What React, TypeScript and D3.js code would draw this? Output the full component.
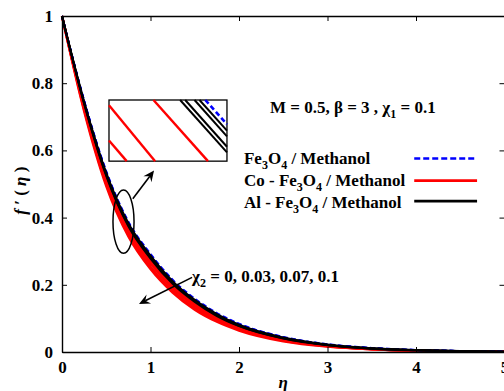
import React, { useRef, useEffect } from 'react';
import * as d3 from 'd3';

// similarity variable eta (x axis)
const eta = [0, 0.25, 0.5, 0.75, 1, 1.25, 1.5, 1.75, 2, 2.5, 3, 3.5, 4, 4.5, 5];

// f'(eta), one row per chi2 = 0, 0.03, 0.07, 0.1
const feMethanol = [
    [1, 0.748, 0.538, 0.388, 0.292, 0.215, 0.159, 0.116, 0.084, 0.045, 0.023, 0.012, 0.006, 0.003, 0.001],
    [1, 0.747, 0.536, 0.386, 0.290, 0.213, 0.157, 0.114, 0.083, 0.044, 0.023, 0.012, 0.006, 0.003, 0.001],
    [1, 0.746, 0.534, 0.384, 0.288, 0.211, 0.155, 0.113, 0.082, 0.043, 0.022, 0.011, 0.006, 0.003, 0.001],
    [1, 0.745, 0.532, 0.382, 0.286, 0.209, 0.154, 0.112, 0.081, 0.042, 0.022, 0.011, 0.005, 0.003, 0.001],
];
const alFeMethanol = [
    [1, 0.745, 0.533, 0.383, 0.287, 0.211, 0.155, 0.113, 0.081, 0.043, 0.022, 0.011, 0.006, 0.003, 0.001],
    [1, 0.743, 0.530, 0.380, 0.284, 0.208, 0.153, 0.111, 0.080, 0.042, 0.021, 0.011, 0.005, 0.003, 0.001],
    [1, 0.741, 0.527, 0.377, 0.281, 0.206, 0.151, 0.109, 0.078, 0.041, 0.021, 0.010, 0.005, 0.002, 0.001],
    [1, 0.739, 0.524, 0.374, 0.278, 0.203, 0.149, 0.107, 0.077, 0.040, 0.020, 0.010, 0.005, 0.002, 0.001],
];
const coFeMethanol = [
    [1, 0.733, 0.517, 0.367, 0.271, 0.197, 0.143, 0.103, 0.074, 0.038, 0.019, 0.009, 0.004, 0.002, 0.001],
    [1, 0.727, 0.509, 0.359, 0.263, 0.190, 0.137, 0.098, 0.070, 0.036, 0.018, 0.009, 0.004, 0.002, 0.001],
    [1, 0.722, 0.500, 0.350, 0.254, 0.183, 0.131, 0.094, 0.067, 0.034, 0.017, 0.008, 0.004, 0.002, 0.001],
    [1, 0.717, 0.494, 0.344, 0.247, 0.177, 0.126, 0.090, 0.064, 0.032, 0.016, 0.008, 0.004, 0.002, 0.001],
];

const xTicks = [0, 1, 2, 3, 4, 5];
const yTicks = [0, 0.2, 0.4, 0.6, 0.8, 1];
const yTickLabels = ['0', '0.2', '0.4', '0.6', '0.8', '1'];
const chi2Label = '= 0, 0.03, 0.07, 0.1';

// zoomed inset: segments in inset-local units [u0, v0, u1, v1]
const insetRed = [[0, 0.339, 0.15, 0], [0, 0.913, 0.391, 0], [0.377, 1, 0.839, 0]];
const insetBlack = [[0.603, 1, 1, 0.143], [0.646, 1, 1, 0.236], [0.725, 1, 1, 0.405], [0.767, 1, 1, 0.498]];
const insetBlue = [[0.816, 1, 1, 0.602]];

const FONT = "'Liberation Serif', 'Times New Roman', serif";

const App: React.FC = () => {
    const svgRef = useRef<SVGSVGElement | null>(null);
    const width = 504;
    const height = 391;

    useEffect(() => {
        if (!svgRef.current) return;
        const svg = d3.select(svgRef.current);
        svg.selectAll('*').remove();

        const x = d3.scaleLinear().domain([0, 5]).range([62, 504.5]);
        const y = d3.scaleLinear().domain([0, 1]).range([352, 16]);

        const line = d3
            .line<number>()
            .x((_, i) => x(eta[i]))
            .y((d) => y(d))
            .curve(d3.curveMonotoneX);

        const g = svg.append('g');

        // curves
        coFeMethanol.forEach((s) => {
            g.append('path').datum(s).attr('fill', 'none').attr('stroke', '#ff0000')
                .attr('stroke-width', 2.4).attr('d', line);
        });
        feMethanol.forEach((s) => {
            g.append('path').datum(s).attr('fill', 'none').attr('stroke', '#0000ff')
                .attr('stroke-width', 2).attr('stroke-dasharray', '5,3').attr('d', line);
        });
        alFeMethanol.forEach((s) => {
            g.append('path').datum(s).attr('fill', 'none').attr('stroke', '#000')
                .attr('stroke-width', 2).attr('d', line);
        });

        // axes box with inward ticks
        const axisBottom = d3.axisBottom(x).tickValues(xTicks).tickSize(-5).tickSizeOuter(0).tickPadding(9)
            .tickFormat((d) => String(d));
        const axisTop = d3.axisTop(x).tickValues(xTicks).tickSize(-5).tickSizeOuter(0).tickFormat(() => '');
        const axisLeft = d3.axisLeft(y).tickValues(yTicks).tickSize(-5).tickSizeOuter(0).tickPadding(9)
            .tickFormat((_, i) => yTickLabels[i]);
        const axisRight = d3.axisRight(y).tickValues(yTicks).tickSize(-5).tickSizeOuter(0).tickFormat(() => '');

        const styleAxis = (sel: d3.Selection<SVGGElement, unknown, null, undefined>) => {
            sel.selectAll('path').attr('stroke', '#000').attr('stroke-width', 1.4);
            sel.selectAll('line').attr('stroke', '#000').attr('stroke-width', 1);
            sel.selectAll('text').attr('fill', '#000').style('font-family', FONT)
                .style('font-size', '17px').style('font-weight', 'bold');
        };
        styleAxis(g.append('g').attr('transform', `translate(0,${y(0)})`).call(axisBottom));
        styleAxis(g.append('g').attr('transform', `translate(0,${y(1)})`).call(axisTop));
        styleAxis(g.append('g').attr('transform', `translate(${x(0)},0)`).call(axisLeft));
        styleAxis(g.append('g').attr('transform', `translate(${x(5)},0)`).call(axisRight));

        // axis titles
        g.append('text').attr('x', x(2.5)).attr('y', 388).attr('text-anchor', 'middle')
            .style('font-family', FONT).style('font-size', '17px').style('font-weight', 'bold')
            .style('font-style', 'italic').text('η');
        const yl = g.append('text').attr('transform', `translate(26,${y(0.48)}) rotate(-90)`)
            .attr('text-anchor', 'middle').style('font-family', FONT).style('font-size', '17px')
            .style('font-weight', 'bold').style('white-space', 'pre');
        yl.append('tspan').style('font-style', 'italic').text('f');
        yl.append('tspan').text(' ′ ( ');
        yl.append('tspan').style('font-style', 'italic').text('η');
        yl.append('tspan').text(' )');

        // inset
        const box = { x0: 0.531, x1: 1.864, y0: 0.568, y1: 0.75 };
        const ix = d3.scaleLinear().domain([0, 1]).range([x(box.x0), x(box.x1)]);
        const iy = d3.scaleLinear().domain([0, 1]).range([y(box.y0), y(box.y1)]);
        const inset = g.append('g');
        inset.append('rect').attr('x', ix(0)).attr('y', iy(1)).attr('width', ix(1) - ix(0))
            .attr('height', iy(0) - iy(1)).attr('fill', '#fff').attr('stroke', '#000').attr('stroke-width', 1.3);
        const seg = (arr: number[][], color: string, w: number, dash?: string) => {
            arr.forEach((s) => {
                const l = inset.append('line').attr('x1', ix(s[0])).attr('y1', iy(s[1]))
                    .attr('x2', ix(s[2])).attr('y2', iy(s[3])).attr('stroke', color).attr('stroke-width', w);
                if (dash) l.attr('stroke-dasharray', dash);
            });
        };
        seg(insetRed, '#ff0000', 2.4);
        seg(insetBlack, '#000', 2);
        seg(insetBlue, '#0000ff', 2.6, '5,3');

        // ellipse + arrows
        g.append('ellipse').attr('cx', x(0.695)).attr('cy', y(0.388))
            .attr('rx', x(0.119) - x(0)).attr('ry', y(0) - y(0.094))
            .attr('fill', 'none').attr('stroke', '#000').attr('stroke-width', 1.5);

        const arrow = (from: number[], to: number[]) => {
            const x1 = x(from[0]), y1 = y(from[1]), x2 = x(to[0]), y2 = y(to[1]);
            const a = Math.atan2(y2 - y1, x2 - x1);
            const L = 11, W = 5, N = 7;
            const bx = x2 - L * Math.cos(a), by = y2 - L * Math.sin(a);
            const nx = x2 - N * Math.cos(a), ny = y2 - N * Math.sin(a);
            g.append('line').attr('x1', x1).attr('y1', y1).attr('x2', nx).attr('y2', ny)
                .attr('stroke', '#000').attr('stroke-width', 1.6);
            g.append('path')
                .attr('d', `M${x2},${y2}L${bx + W * Math.sin(a)},${by - W * Math.cos(a)}L${nx},${ny}L${bx - W * Math.sin(a)},${by + W * Math.cos(a)}Z`)
                .attr('fill', '#000');
        };
        arrow([0.8, 0.456], [1.04, 0.54]);
        arrow([1.47, 0.222], [0.87, 0.143]);

        const txt = (xx: number, yy: number) =>
            g.append('text').attr('x', xx).attr('y', yy).style('font-family', FONT)
                .style('font-size', '17px').style('font-weight', 'bold').style('white-space', 'pre');

        // chi2 annotation
        const c2 = txt(x(1.47), y(0.208));
        c2.append('tspan').text('χ');
        c2.append('tspan').attr('dy', 5).style('font-size', '12px').text('2');
        c2.append('tspan').attr('dy', -5).text(' ' + chi2Label);

        // parameters
        const pm = txt(x(2.35), y(0.712));
        pm.append('tspan').text('M = 0.5, β = 3 , χ');
        pm.append('tspan').attr('dy', 5).style('font-size', '12px').text('1');
        pm.append('tspan').attr('dy', -5).text(' = 0.1');

        // legend
        const legend = [
            { prefix: '', color: '#0000ff', dash: '6,3', w: 2.6, ty: 0.559, ly: 0.576 },
            { prefix: 'Co - ', color: '#ff0000', dash: '', w: 2.8, ty: 0.494, ly: 0.51 },
            { prefix: 'Al - ', color: '#000', dash: '', w: 2.8, ty: 0.428, ly: 0.449 },
        ];
        legend.forEach((d) => {
            const t = txt(x(2.056), y(d.ty));
            t.append('tspan').text(d.prefix + 'Fe');
            t.append('tspan').attr('dy', 5).style('font-size', '12px').text('3');
            t.append('tspan').attr('dy', -5).text('O');
            t.append('tspan').attr('dy', 5).style('font-size', '12px').text('4');
            t.append('tspan').attr('dy', -5).text(' / Methanol');
            const l = g.append('line').attr('x1', x(3.98)).attr('x2', x(4.69))
                .attr('y1', y(d.ly)).attr('y2', y(d.ly)).attr('stroke', d.color).attr('stroke-width', d.w);
            if (d.dash) l.attr('stroke-dasharray', d.dash);
        });
    }, []);

    return (
        <svg
            ref={svgRef}
            width={width}
            height={height}
            style={{ position: 'absolute', left: 0, top: 0, background: '#fff' }}
        />
    );
};

export default App;
